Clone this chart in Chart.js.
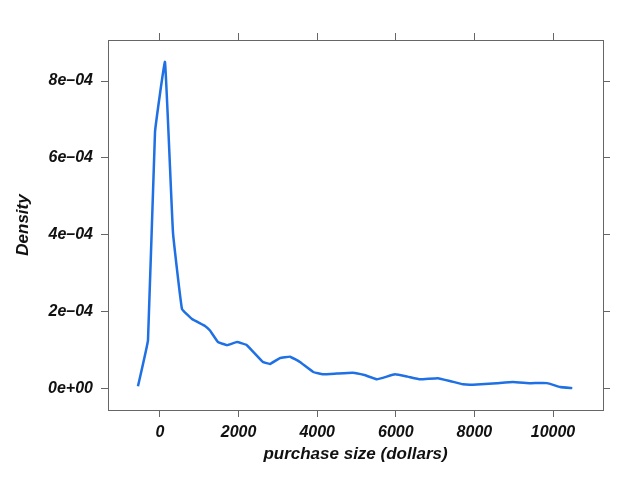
<!DOCTYPE html>
<html>
<head>
<meta charset="utf-8">
<script src="https://cdn.jsdelivr.net/npm/chart.js@4"></script>
<style>
  html, body { margin: 0; padding: 0; background: #fff; }
  #wrap { width: 640px; height: 480px; }
</style>
</head>
<body>
<div id="wrap"><canvas id="densityChart"></canvas></div>
<script>
// density estimate of purchase sizes
const purchaseSize = [-560, -305, -127, 127, 330, 560, 814, 1145, 1272, 1475, 1705, 1960, 2210, 2620, 2800, 3050, 3310, 3560, 3900, 4150, 4500, 4900, 5200, 5520, 5980, 6300, 6620, 7070, 7400, 7710, 7960, 8570, 8980, 9420, 9850, 10180, 10490];
const density = [5e-6, 1.25e-4, 6.67e-4, 8.5e-4, 4.06e-4, 2.06e-4, 1.8e-4, 1.62e-4, 1.5e-4, 1.2e-4, 1.12e-4, 1.2e-4, 1.12e-4, 6.8e-5, 6.3e-5, 7.8e-5, 8.2e-5, 6.8e-5, 4.2e-5, 3.6e-5, 3.8e-5, 4.0e-5, 3.4e-5, 2.3e-5, 3.6e-5, 3.0e-5, 2.3e-5, 2.6e-5, 1.8e-5, 1.0e-5, 9e-6, 1.3e-5, 1.6e-5, 1.3e-5, 1.3e-5, 3e-6, 0];

const xTicks = [0, 2000, 4000, 6000, 8000, 10000];
const yTicks = [0, 2e-4, 4e-4, 6e-4, 8e-4];
const yTickLabels = ['0e+00', '2e\u201304', '4e\u201304', '6e\u201304', '8e\u201304'];

const X_MIN = -1323, X_MAX = 11272;
const Y_MIN = -5.7e-5, Y_MAX = 9.07e-4;

const tickFont = { family: 'Liberation Sans', size: 16, style: 'italic', weight: 'bold' };
const titleFont = { family: 'Liberation Sans', size: 17, style: 'italic', weight: 'bold' };
const frame = '#666';

function axis(pos, tickVals, opts) {
  const horiz = pos === 'top' || pos === 'bottom';
  return Object.assign({
    type: 'linear',
    position: pos,
    min: horiz ? X_MIN : Y_MIN,
    max: horiz ? X_MAX : Y_MAX,
    border: { display: true, color: frame, width: 1 },
    grid: { display: true, drawOnChartArea: false, drawTicks: true, tickLength: 7, color: frame, lineWidth: 1 },
    afterBuildTicks(scale) { scale.ticks = tickVals.map(v => ({ value: v })); },
    ticks: { display: false }
  }, opts);
}

const data = purchaseSize.map((x, i) => ({ x: x, y: density[i] }));

new Chart(document.getElementById('densityChart'), {
  type: 'line',
  data: {
    datasets: [{
      data: data,
      borderColor: 'rgb(30,112,228)',
      borderWidth: 2.5,
      pointRadius: 0,
      tension: 0.08,
      fill: false,
      xAxisID: 'x',
      yAxisID: 'y'
    }]
  },
  options: {
    animation: false,
    responsive: true,
    maintainAspectRatio: false,
    layout: { padding: 0 },
    plugins: { legend: { display: false }, tooltip: { enabled: false } },
    scales: {
      x: axis('bottom', xTicks, {
        afterFit(s) { s.height = 70; },
        ticks: { display: true, color: '#111', font: tickFont, padding: 6, maxRotation: 0,
          callback: v => String(v) },
        title: { display: true, text: 'purchase size (dollars)', color: '#111', font: titleFont, padding: { top: 0, bottom: 15 } }
      }),
      x2: axis('top', xTicks, { afterFit(s) { s.height = 40; } }),
      y: axis('left', yTicks, {
        afterFit(s) { s.width = 108; },
        ticks: { display: true, color: '#111', font: tickFont, padding: 8,
          callback: v => { const i = yTicks.indexOf(v); return i >= 0 ? yTickLabels[i] : ''; } },
        title: { display: true, text: 'Density', color: '#111', font: titleFont, padding: { top: 13, bottom: 0 } }
      }),
      y2: axis('right', yTicks, { afterFit(s) { s.width = 37; } })
    }
  }
});
</script>
</body>
</html>
